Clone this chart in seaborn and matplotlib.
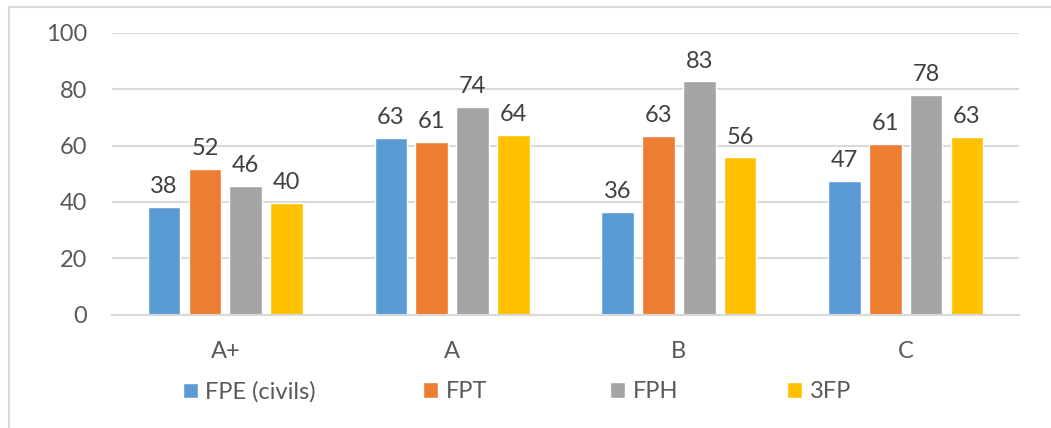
import pandas as pd
import seaborn as sns
import matplotlib.pyplot as plt
from matplotlib.patches import Rectangle

# data
categories = ["A+", "A", "B", "C"]
series = ["FPE (civils)", "FPT", "FPH", "3FP"]
fpe = [38.3, 62.6, 36.4, 47.4]
fpt = [51.7, 61.2, 63.4, 60.7]
fph = [45.6, 73.7, 82.7, 78.0]
tfp = [39.7, 63.8, 55.8, 63.1]
colors = ["#5B9BD5", "#ED7D31", "#A5A5A5", "#FFC000"]

df = pd.DataFrame({
    "cat": categories * 4,
    "serie": [s for s in series for _ in categories],
    "val": fpe + fpt + fph + tfp,
})

sns.set_theme(style="white")
plt.rcParams["font.family"] = ["Lato", "DejaVu Sans"]
FS = 17

fig = plt.figure(figsize=(10.51, 4.28), dpi=100)
ax = fig.add_axes([112 / 1051, 1 - 314.7 / 428, (1019 - 112) / 1051, (314.7 - 32.7) / 428])

sns.barplot(data=df, x="cat", y="val", hue="serie", order=categories,
            hue_order=series, palette=colors, width=0.72, gap=0.2,
            saturation=1, ax=ax, legend=True)

for cont in ax.containers:
    ax.bar_label(cont, fmt="{:.0f}", padding=7, fontsize=FS, color="#404040")

ax.set_ylim(0, 100)
ax.set_xlim(-0.5, 3.5)
ax.set_yticks(range(0, 101, 20))
ax.yaxis.grid(True, color="#D9D9D9", lw=1.5)
ax.set_axisbelow(True)
for s in ["top", "right", "left"]:
    ax.spines[s].set_visible(False)
ax.spines["bottom"].set_color("#D9D9D9")
ax.spines["bottom"].set_linewidth(1.5)
ax.tick_params(axis="both", length=0, labelsize=FS, labelcolor="#595959")
ax.tick_params(axis="x", pad=19)
ax.tick_params(axis="y", pad=18)
ax.set_xlabel("")
ax.set_ylabel("")

handles, labels = ax.get_legend_handles_labels()
ax.get_legend().remove()
# one legend entry per spot, as in the reference
leg_x = [183, 423, 610, 787]
for h, lab, x in zip(handles, labels, leg_x):
    leg = fig.legend([h], [lab], loc="center left",
                     bbox_to_anchor=(x / 1051, 1 - 392 / 428), frameon=False,
                     fontsize=FS, labelcolor="#595959", handlelength=0.65,
                     handleheight=0.65, handletextpad=0.3,
                     borderpad=0, borderaxespad=0)

# light frame of the chart area
fig.patches.append(Rectangle((9 / 1051, -0.05), 1.1, 1 - 6.5 / 428 + 0.05,
                             transform=fig.transFigure, fill=False,
                             edgecolor="#D9D9D9", lw=1.5))

fig.savefig("out.png", dpi=100)
